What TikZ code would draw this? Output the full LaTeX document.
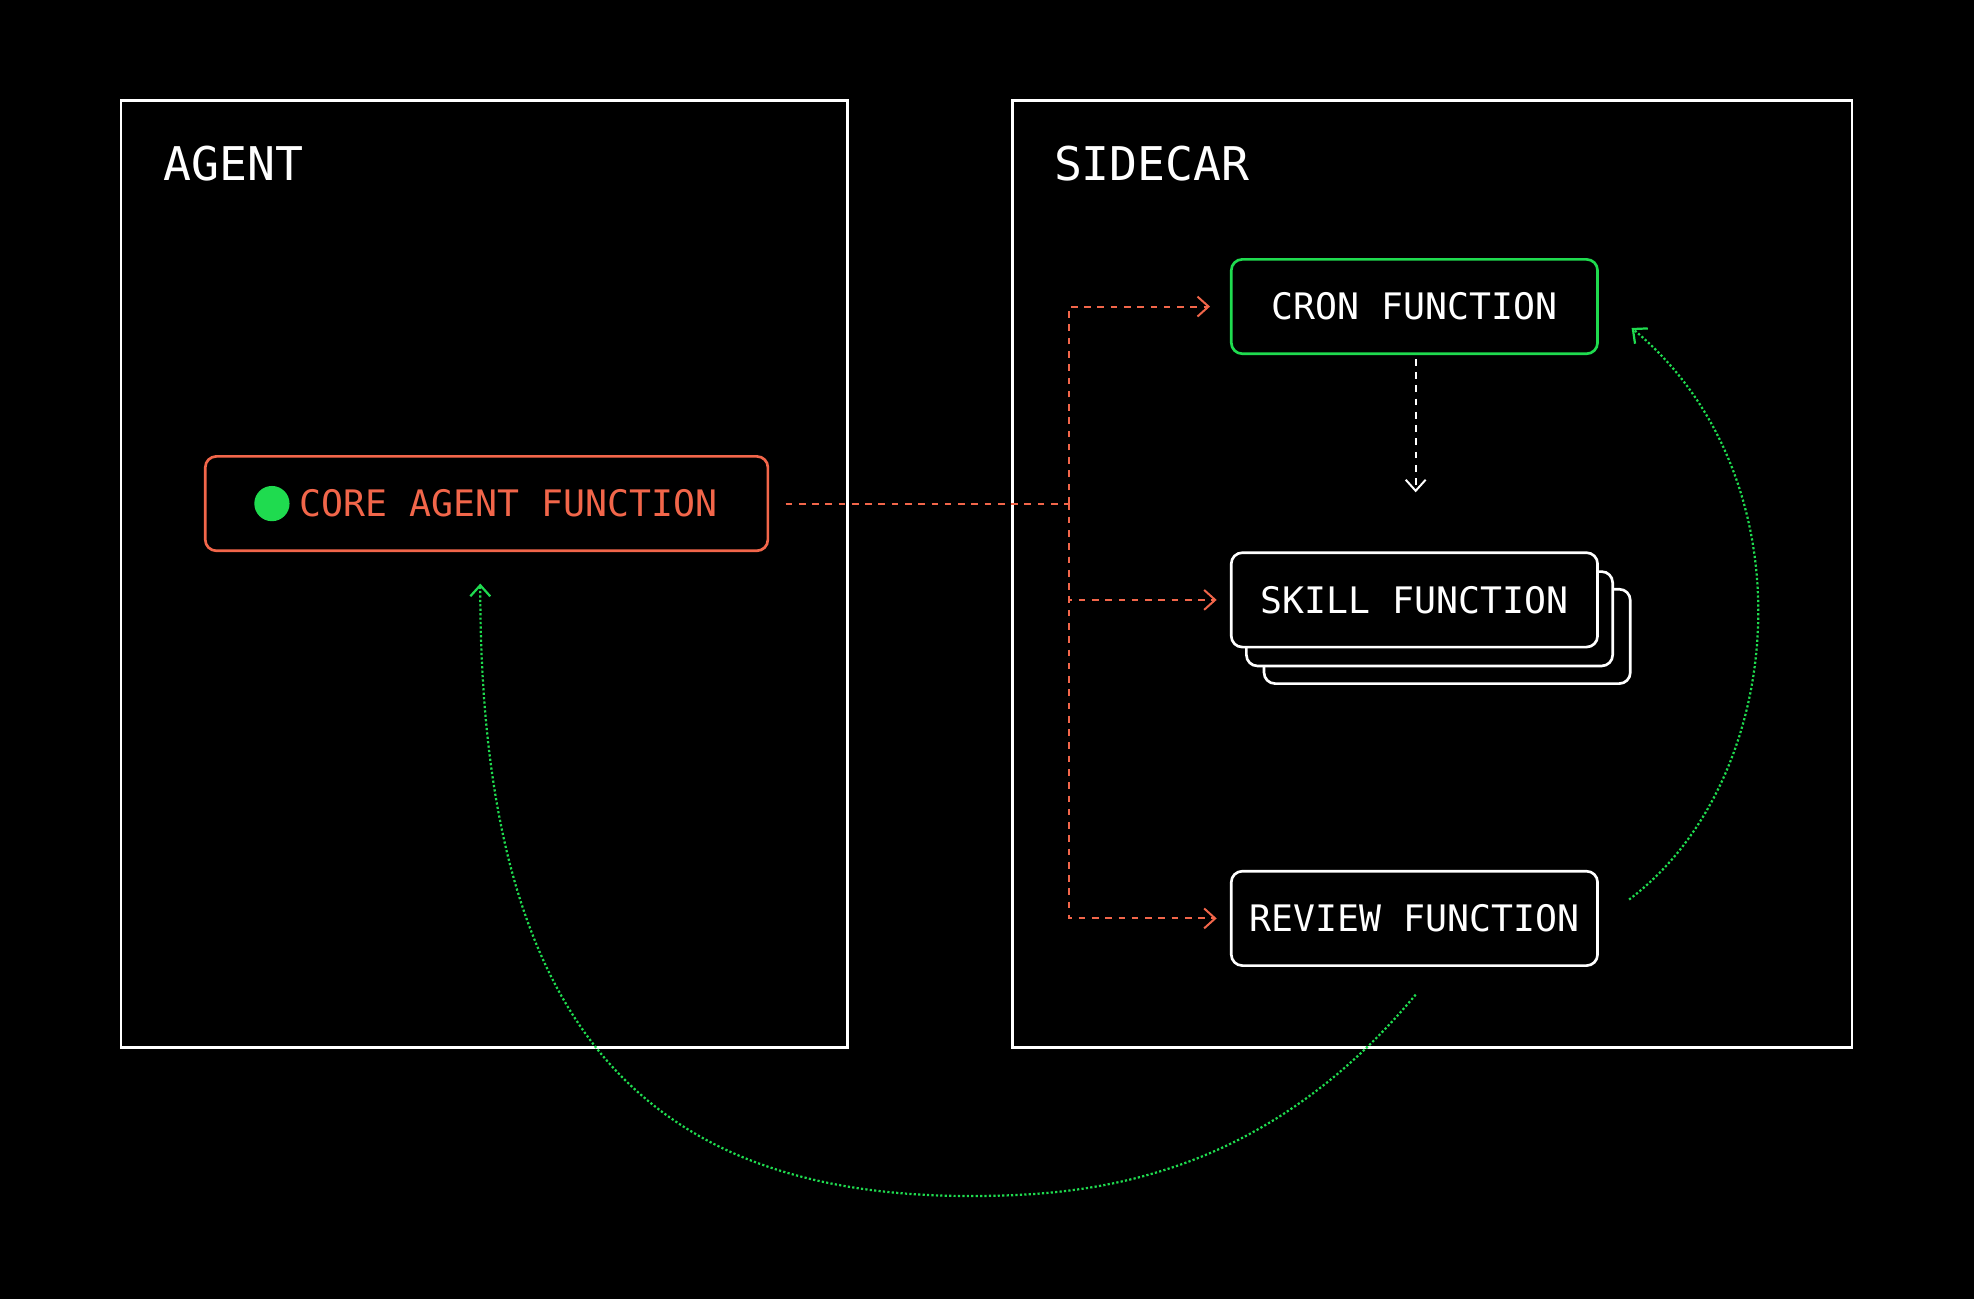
\documentclass[tikz,border=0pt]{standalone}
\usepackage{fontspec}
\setmonofont{DejaVu Sans Mono}
\usetikzlibrary{positioning,arrows.meta}
\definecolor{coral}{HTML}{F2664A}
\definecolor{lime}{HTML}{1FDB4F}
\tikzset{
  panel/.style={draw=white,line width=1.2pt},
  fn/.style={draw=white,line width=1.2pt,rounded corners=5pt,fill=black,
    minimum width=5.82cm,minimum height=1.5cm,text=white,font=\ttfamily\fontsize{16.5}{19}\selectfont},
  title/.style={text=white,anchor=west,font=\ttfamily\fontsize{21}{25}\selectfont},
  call/.style={coral,dashed,line width=0.9pt,-{Straight Barb[length=5pt,width=9pt]}},
  back/.style={lime,densely dotted,line width=1pt,-{Straight Barb[length=5pt,width=9pt]}}
}
\begin{document}
\begin{tikzpicture}[x=0.02cm,y=-0.02cm]
  \fill[black] (0,0) rectangle (1568,1032);
  \useasboundingbox (0,0) rectangle (1568,1032);
  % panels
  \draw[panel] (96,80) rectangle (673,832);
  \draw[panel] (804,80) rectangle (1471,832);
  \node[title] (agent) at (124,130) {AGENT};
  \node[title] (sidecar) at (831,130) {SIDECAR};
  % core
  \node[fn,draw=coral,text=coral,minimum width=8.94cm] (core) at (386.5,400) {\hspace*{0.7cm}CORE AGENT FUNCTION};
  \fill[lime] (216,400) circle (14);
  % sidecar functions
  \node[fn,draw=lime] (cron) at (1123.5,243.5) {CRON FUNCTION};
  \node[fn] (skill3) at (1149.5,505.5) {};
  \node[fn] (skill2) at (1135.5,491.5) {};
  \node[fn] (skill) at (1123.5,476.5) {SKILL FUNCTION};
  \node[fn] (review) at (1123.5,729.5) {REVIEW FUNCTION};
  % helper points
  \path (core.east) ++(13,0) coordinate (coreout);
  \path (core.south) ++(-5,25) coordinate (corein);
  \path (cron.south) ++(1,3) coordinate (cronout);
  \path (cron.east) ++(26,17) coordinate (cronin);
  \path (review.south) ++(1,22) coordinate (rvdown);
  \path (review.east) ++(24,-15) coordinate (rvright);
  \coordinate (split) at (849,400);
  % calls
  \draw[coral,dashed,line width=0.9pt] (coreout) -- (split);
  \draw[call] (split) |- ([xshift=-9pt]cron.west);
  \draw[call] (split) |- ([xshift=-6pt]skill.west);
  \draw[call] (split) |- ([xshift=-6pt]review.west);
  \draw[white,dashed,line width=0.9pt,-{Straight Barb[length=5pt,width=9pt]}] (cronout) -- ++(0,106);
  % results
  \draw[back] (rvdown) .. controls (1000,940) and (860,950) .. (770,950)
     .. controls (500,950) and (381,800) .. (corein);
  \draw[back] (rvright) .. controls (1420,620) and (1440,380) .. (cronin);
\end{tikzpicture}
\end{document}
